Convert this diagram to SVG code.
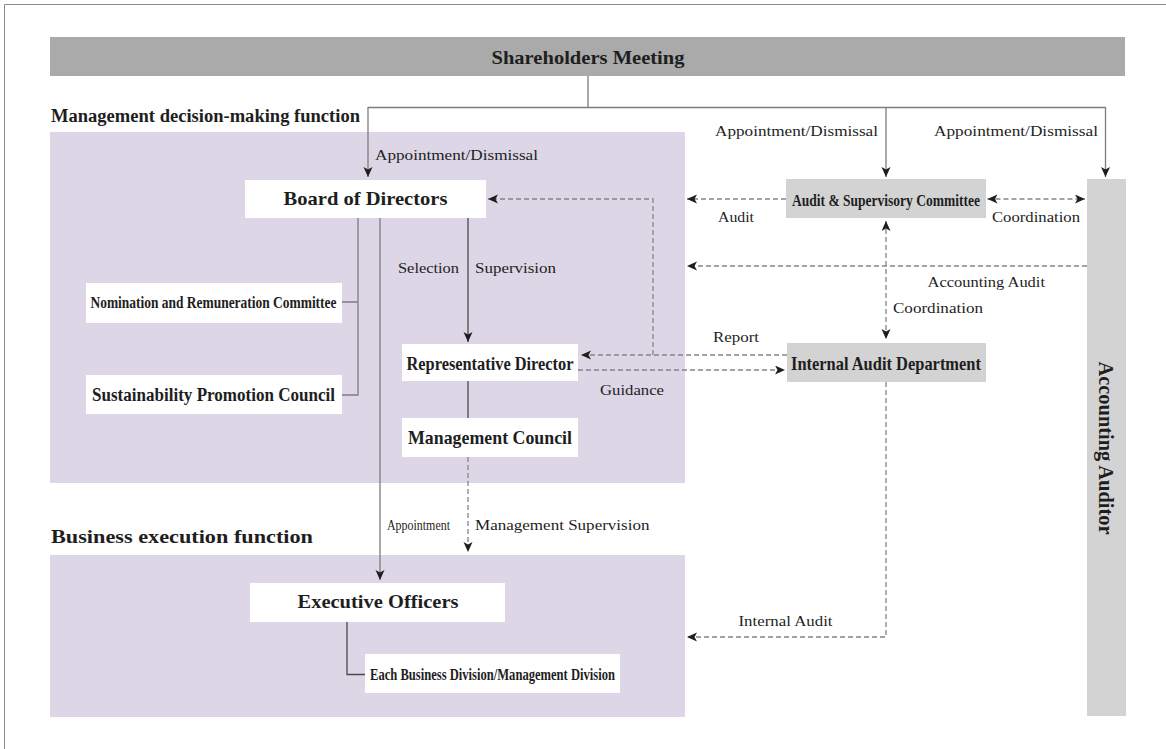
<svg xmlns="http://www.w3.org/2000/svg" width="1166" height="749" viewBox="0 0 1166 749">
<style>
  text { font-family: "Liberation Serif", "DejaVu Serif", serif; fill: #1e1e1e; }
  .b { font-weight: bold; }
  .lbl { font-size: 15.5px; }
  .box { fill: #ffffff; }
  .gbox { fill: #d3d3d3; }
  .area { fill: #dcd6e6; }
  .ln { fill: none; stroke: #7d7d7d; stroke-width: 1.3; }
  .dk { fill: none; stroke: #4a4a4a; stroke-width: 1.3; }
  .ds { fill: none; stroke: #858585; stroke-width: 1.3; stroke-dasharray: 5 3; }
</style>
<defs>
  <marker id="ah" markerUnits="userSpaceOnUse" markerWidth="11" markerHeight="10" refX="10" refY="4.5" orient="auto-start-reverse" viewBox="0 0 11 10">
    <path d="M0,0 L10,4.5 L0,9 L2.5,4.5 z" fill="#1e1e1e"/>
  </marker>
</defs>
<rect width="1166" height="749" fill="#ffffff"/>
<path d="M4.5,749 V4.5 H1166" fill="none" stroke="#8a8a8a" stroke-width="1"/>

<g id="areas">
  <rect class="area" x="50" y="132" width="635" height="351"/>
  <rect class="area" x="50" y="555" width="635" height="162"/>
  <text class="b" x="51" y="122" font-size="18.5" textLength="309" lengthAdjust="spacingAndGlyphs">Management decision-making function</text>
  <text class="b" x="51" y="543" font-size="18.5" textLength="262" lengthAdjust="spacingAndGlyphs">Business execution function</text>
</g>

<g id="shareholders">
  <rect x="50" y="37" width="1075" height="39" fill="#a9aaa9"/>
  <text class="b" x="588" y="64" font-size="19" text-anchor="middle" textLength="193" lengthAdjust="spacingAndGlyphs">Shareholders Meeting</text>
</g>

<g id="board">
  <rect class="box" x="245" y="180" width="241" height="38"/>
  <text class="b" x="365.5" y="205" font-size="19" text-anchor="middle" textLength="164" lengthAdjust="spacingAndGlyphs">Board of Directors</text>
</g>

<g id="nomination">
  <rect class="box" x="86" y="283" width="256" height="40"/>
  <text class="b" x="213.5" y="308" font-size="17" text-anchor="middle" textLength="246" lengthAdjust="spacingAndGlyphs">Nomination and Remuneration Committee</text>
</g>

<g id="sustainability">
  <rect class="box" x="86" y="375" width="256" height="39"/>
  <text class="b" x="213.5" y="401" font-size="18" text-anchor="middle" textLength="243" lengthAdjust="spacingAndGlyphs">Sustainability Promotion Council</text>
</g>

<g id="repdir">
  <rect class="box" x="402" y="344" width="176" height="37"/>
  <text class="b" x="490" y="370" font-size="18" text-anchor="middle" textLength="167" lengthAdjust="spacingAndGlyphs">Representative Director</text>
</g>

<g id="mgmtcouncil">
  <rect class="box" x="402" y="418" width="176" height="39"/>
  <text class="b" x="490" y="444" font-size="19" text-anchor="middle" textLength="164" lengthAdjust="spacingAndGlyphs">Management Council</text>
</g>

<g id="exec">
  <rect class="box" x="250" y="583" width="255" height="39"/>
  <text class="b" x="378" y="608" font-size="19" text-anchor="middle" textLength="161" lengthAdjust="spacingAndGlyphs">Executive Officers</text>
</g>

<g id="divisions">
  <rect class="box" x="365" y="654" width="255" height="39"/>
  <text class="b" x="492.5" y="680" font-size="16.5" text-anchor="middle" textLength="245" lengthAdjust="spacingAndGlyphs">Each Business Division/Management Division</text>
</g>

<g id="auditcommittee">
  <rect class="gbox" x="786" y="179" width="200" height="39"/>
  <text class="b" x="886" y="206" font-size="17" text-anchor="middle" textLength="188" lengthAdjust="spacingAndGlyphs">Audit &amp; Supervisory Committee</text>
</g>

<g id="internalaudit">
  <rect class="gbox" x="787" y="343" width="199" height="39"/>
  <text class="b" x="886" y="370" font-size="19" text-anchor="middle" textLength="190" lengthAdjust="spacingAndGlyphs">Internal Audit Department</text>
</g>

<g id="accountingauditor">
  <rect class="gbox" x="1087" y="179" width="39" height="537"/>
  <text class="b" font-size="20" text-anchor="middle" textLength="173" lengthAdjust="spacingAndGlyphs" transform="translate(1099,448) rotate(90)" x="0" y="0">Accounting Auditor</text>
</g>

<g id="connectors">
  <path class="ln" d="M588,76 V107.5 M368,107.5 H1105.5"/>
  <path class="ln" d="M368,107 V177" marker-end="url(#ah)"/>
  <path class="ln" d="M886,107 V177" marker-end="url(#ah)"/>
  <path class="ln" d="M1105.5,107 V177" marker-end="url(#ah)"/>
  <path class="ln" d="M358,218 V395 H342 M358,302 H342"/>
  <path class="ln" d="M380,218 V580" marker-end="url(#ah)"/>
  <path class="dk" d="M468,218 V342" marker-end="url(#ah)"/>
  <path class="dk" d="M468,381 V418"/>
  <path class="dk" d="M347,622 V674.5 H365"/>
  <path class="ds" d="M468,457 V552" marker-end="url(#ah)"/>
  <path class="ds" d="M787,355 H581" marker-end="url(#ah)"/>
  <path class="ds" d="M653,355 V199 H488" marker-end="url(#ah)"/>
  <path class="ds" d="M578,370 H785" marker-end="url(#ah)"/>
  <path class="ds" d="M786,199 H687" marker-end="url(#ah)"/>
  <path class="ds" d="M987.5,199 H1085" marker-start="url(#ah)" marker-end="url(#ah)"/>
  <path class="ds" d="M1087,266 H687" marker-end="url(#ah)"/>
  <path class="ds" d="M886,221 V339" marker-start="url(#ah)" marker-end="url(#ah)"/>
  <path class="ds" d="M886,382 V637 H687" marker-end="url(#ah)"/>
</g>

<g id="labels" class="lbl">
  <text x="375" y="160" textLength="163" lengthAdjust="spacingAndGlyphs">Appointment/Dismissal</text>
  <text x="715" y="136" textLength="163" lengthAdjust="spacingAndGlyphs">Appointment/Dismissal</text>
  <text x="934" y="136" textLength="164" lengthAdjust="spacingAndGlyphs">Appointment/Dismissal</text>
  <text x="718" y="222" textLength="36" lengthAdjust="spacingAndGlyphs">Audit</text>
  <text x="992" y="222" textLength="88" lengthAdjust="spacingAndGlyphs">Coordination</text>
  <text x="927.5" y="287" textLength="117.5" lengthAdjust="spacingAndGlyphs">Accounting Audit</text>
  <text x="893" y="313" textLength="90" lengthAdjust="spacingAndGlyphs">Coordination</text>
  <text x="398" y="273" textLength="61" lengthAdjust="spacingAndGlyphs">Selection</text>
  <text x="475" y="273" textLength="81" lengthAdjust="spacingAndGlyphs">Supervision</text>
  <text x="713" y="342" textLength="46" lengthAdjust="spacingAndGlyphs">Report</text>
  <text x="600" y="395" textLength="64" lengthAdjust="spacingAndGlyphs">Guidance</text>
  <text x="387" y="530" font-size="15" textLength="63" lengthAdjust="spacingAndGlyphs">Appointment</text>
  <text x="475" y="530" textLength="174.5" lengthAdjust="spacingAndGlyphs">Management Supervision</text>
  <text x="738.5" y="626" textLength="94" lengthAdjust="spacingAndGlyphs">Internal Audit</text>
</g>
</svg>
